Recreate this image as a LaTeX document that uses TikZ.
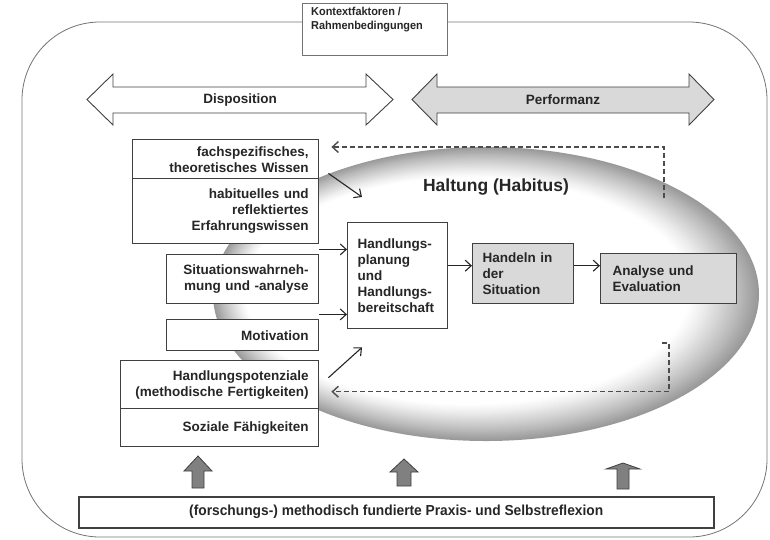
\documentclass[tikz,border=0pt]{standalone}
\usepackage{fontspec}
\setmainfont{Liberation Sans}
\newfontfamily\schmal[FakeStretch=0.95]{Liberation Sans}
\usetikzlibrary{arrows.meta}

\definecolor{linie}{gray}{0.25}
\definecolor{rahmen}{gray}{0.45}
\definecolor{kasten}{gray}{0.85}
\definecolor{pfeilgrau}{gray}{0.5}
\definecolor{randgrau}{gray}{0.6}

\tikzset{
  txt/.style={font=\bfseries\fontsize{13.5}{16}\selectfont, text=black!85},
  links/.style={txt, draw=linie, line width=1.4pt, fill=white, align=right, anchor=north west, inner xsep=10pt, inner ysep=0pt},
  mitte/.style={txt, draw=linie, line width=1.4pt, align=left, anchor=north west, inner xsep=10pt, inner ysep=0pt},
  klein/.style={font=\schmal\bfseries\fontsize{11.5}{14}\selectfont, text=black!85},
  pfeil/.style={draw=black!85, line width=1.1pt, -{Straight Barb[length=6pt,width=11pt]}},
  rueck/.style={pfeil, draw=black!70, line width=1.4pt, dash pattern=on 5pt off 3pt},
}

\begin{document}
\begin{tikzpicture}[x=1pt, y=-1pt] %1
            \useasboundingbox (0,0) rectangle (770,539);

            % Rahmen und Kontext
            \draw[rahmen, line width=0.8pt, rounded corners=78pt] (22,22) rectangle (767,537);
            \node[draw=rahmen, line width=0.8pt, fill=white, anchor=north west, minimum width=145pt, minimum height=52pt] (kontext) at (302,3) {};
            \node[klein, align=left, anchor=north west, inner sep=0pt] (kontexttext) at ([xshift=9pt, yshift=-4pt]kontext.north west) {Kontextfaktoren /\\Rahmenbedingungen};

            % Disposition / Performanz
            \filldraw[fill=white, draw=linie, line width=0.9pt] (87,99.5) -- (113,74) -- (113,87) -- (366,87) -- (366,74) -- (393,99.5) -- (366,125) -- (366,113) -- (113,113) -- (113,125) -- cycle;
            \filldraw[fill=kasten, draw=linie, line width=0.9pt] (412,99.5) -- (437,74) -- (437,87) -- (689,87) -- (689,74) -- (714,99.5) -- (689,125) -- (689,113) -- (437,113) -- (437,125) -- cycle;
            \node[txt] (disposition) at (240,100) {Disposition};
            \node[txt] (performanz) at (563,100) {Performanz};

            % Haltung
            \foreach \i in {0,...,40} {
                \pgfmathsetmacro\t{\i/40}
                \pgfmathtruncatemacro\g{100*(1-\t)^1.2}
                \fill[randgrau!\g!white] ({486-19*\t},{294-3*\t}) ellipse ({273-51*\t} and {147-34*\t});
            }
            \node[txt, font=\bfseries\fontsize{17.5}{20}\selectfont] (haltung) at (496,187) {Haltung (Habitus)};

            % linke Kaesten
            \node[links, text width=166pt, minimum height=39pt] (wissen) at (132,139) {fachspezifisches,\\theoretisches Wissen};
            \node[links, text width=166pt, minimum height=65pt] (erfahrung) at (132,178) {habituelles und\\reflektiertes\\Erfahrungswissen};
            \node[links, text width=132pt, minimum height=49pt] (situation) at (166,254) {Situationswahrneh-\\mung und -analyse};
            \node[links, text width=132pt, minimum height=31pt] (motivation) at (166,319) {Motivation};
            \node[links, text width=178pt, minimum height=48pt] (potenziale) at (120,360) {Handlungspotenziale\\(methodische Fertigkeiten)};
            \node[links, text width=178pt, minimum height=38pt] (sozial) at (120,408) {Soziale Fähigkeiten};

            % Handlung
            \node[mitte, fill=white, text width=80pt, minimum height=106pt] (planung) at (347,222) {Handlungs-\\planung\\und\\Handlungs-\\bereitschaft};
            \node[mitte, fill=kasten, text width=81pt, minimum height=60pt] (handeln) at (472,243) {Handeln in\\der\\Situation};
            \node[mitte, fill=kasten, inner xsep=12pt, text width=112pt, minimum height=50pt] (analyse) at (600,253) {Analyse und\\Evaluation\\[3pt]};

            % Pfeile
            \coordinate (e1) at ([yshift=-5pt]erfahrung.south east);
            \coordinate (s1) at ([yshift=-10pt]situation.south east);
            \coordinate (h1) at ([yshift=8pt]handeln.west);
            \coordinate (a1) at ([yshift=13pt]analyse.west);
            \draw[pfeil] ([xshift=9pt, yshift=6pt]wissen.south east) -- ([xshift=15pt, yshift=25pt]planung.north west);
            \draw[pfeil] (e1) -- (e1 -| planung.west);
            \draw[pfeil] (s1) -- (s1 -| planung.west);
            \draw[pfeil] ([xshift=9pt, yshift=7pt]potenziale.east) -- ([xshift=15pt, yshift=-18pt]planung.south west);
            \draw[pfeil] (h1 -| planung.east) -- (h1);
            \draw[pfeil] (a1 -| handeln.east) -- (a1);

            % Rueckkopplung
            \coordinate (r1) at (664,198);
            \coordinate (r2) at (662,343);
            \draw[rueck] (r1) |- ([xshift=12pt, yshift=-8pt]wissen.north east);
            \draw[rueck] (r2) -- ++(7,0) |- ([xshift=12pt, yshift=-7pt]potenziale.east);

            % Praxis und Selbstreflexion
            \foreach \x/\t/\h/\b/\k/\s in {198/456/14/471/488/6, 404/459/14/472/486/7, 623/463/17/469/489/6}
                \filldraw[fill=pfeilgrau, draw=linie, line width=0.8pt] (\x,\t) -- (\x+\h,\b) -- (\x+\s,\b) -- (\x+\s,\k) -- (\x-\s,\k) -- (\x-\s,\b) -- (\x-\h,\b) -- cycle;
            \node[klein, font=\schmal\bfseries\fontsize{14.5}{16}\selectfont, draw=linie, line width=1.5pt, anchor=north west, minimum width=635pt, minimum height=31pt] (praxis) at (78,496) {(forschungs-) methodisch fundierte Praxis- und Selbstreflexion};
        \end{tikzpicture}
\end{document}
